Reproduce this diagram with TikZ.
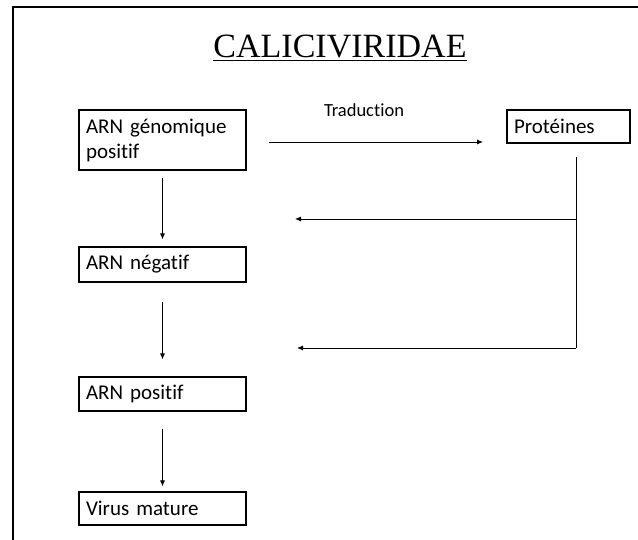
\documentclass[tikz,border=0pt]{standalone}
\usepackage{fontspec}
\setmainfont{Carlito}[Ligatures=NoCommon]
\newfontfamily\titlefont{Liberation Serif}
\usetikzlibrary{arrows.meta}

\begin{document}
\begin{tikzpicture}[x=1pt, y=-1pt]
  \tikzstyle{box} = [rectangle, draw, line width = 1.1pt, text width = 153pt, inner xsep = 7pt, inner ysep = 0pt, align = left, font = \fontsize{21}{25}\selectfont]
  \tikzstyle{arrow} = [-{Latex[length=6pt, width=5pt]}, line width = 0.9pt]
  \tikzstyle{line} = [-, line width = 0.9pt]

  \useasboundingbox (0,0) rectangle (638,540);
  \draw[line width = 2.6pt] (13,545) -- (13,7) -- (645,7);

  \node [anchor = base, font = \titlefont\fontsize{34}{40}\selectfont] at (340,58) (title) {\underline{CALICIVIRIDAE}};

  \node [box, minimum height = 60pt] at (162.5,140) (genome) {ARN génomique\\positif};
  \node [box, text width = 109pt, minimum height = 33pt] at (568.5,126.5) (proteins) {Protéines};
  \node [box, minimum height = 35pt] at (162.5,264.5) (negative) {ARN négatif};
  \node [box, minimum height = 34pt] at (162.5,394) (positive) {ARN positif};
  \node [box, minimum height = 33pt] at (162.5,508.5) (mature) {Virus mature};

  \node [anchor = base, font = \fontsize{18.5}{22}\selectfont] at (364,117) (trad_label) {Traduction};

  \coordinate (trad_start) at (269,142);
  \coordinate (trad_end) at (483,142);
  \coordinate (fb_top) at (576,157);
  \coordinate (fb_mid) at (576,219);
  \coordinate (fb_bot) at (576,348);
  \coordinate (fb_to_neg) at (295,219);
  \coordinate (fb_to_pos) at (297,348);

  \draw[arrow] (trad_start) to (trad_end);
  \draw[arrow, shorten <= 7pt, shorten >= 7pt] (genome) to (negative);
  \draw[arrow, shorten <= 19pt, shorten >= 17pt] (negative) to (positive);
  \draw[arrow, shorten <= 17pt, shorten >= 5pt] (positive) to (mature);
  \draw[line] (fb_top) to (fb_bot);
  \draw[arrow] (fb_mid) to (fb_to_neg);
  \draw[arrow] (fb_bot) to (fb_to_pos);
\end{tikzpicture}
\end{document}
